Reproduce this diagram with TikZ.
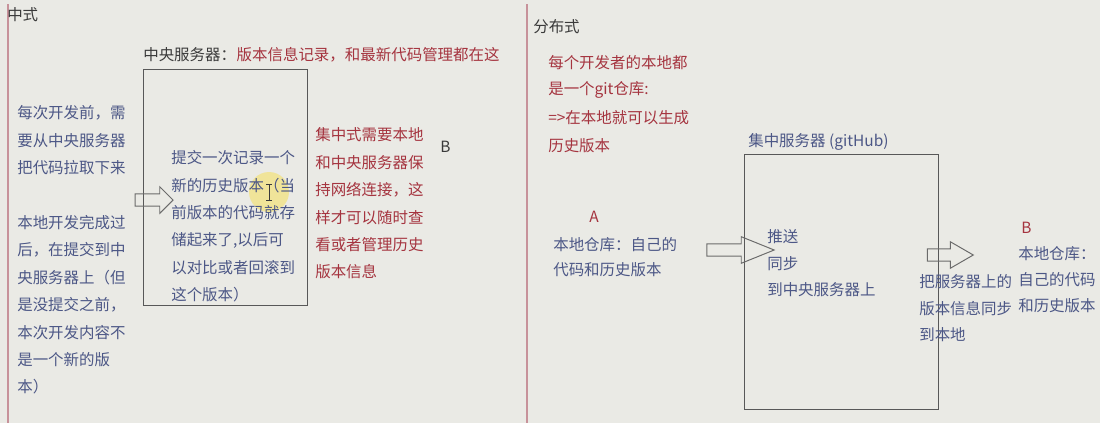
\documentclass[tikz,border=0pt]{standalone}
\usepackage{fontspec}
\setmainfont{Noto Sans CJK SC}
\usetikzlibrary{positioning, shapes.arrows}
\definecolor{cpaper}{HTML}{EAEAE5}
\definecolor{cink}{HTML}{4C5786}
\definecolor{cred}{HTML}{A5343F}
\definecolor{cdark}{HTML}{3A3A3A}
\definecolor{cline}{HTML}{C7929A}
\definecolor{cglow}{HTML}{F3E27A}
\tikzset{
  every picture/.style={font=\fontsize{11}{14}\selectfont},
  txt/.style={anchor=west, inner sep=0pt, text=#1},
  txt/.default=cink,
  frame/.style={draw=cdark!85, line width=0.9pt, anchor=north west, inner sep=0pt},
  hollow/.style={single arrow, draw=cdark!75, line width=0.7pt,
    inner xsep=0pt, inner ysep=0.14cm, single arrow head extend=0.18cm,
    minimum width=0.64cm, minimum height=#1},
  pane/.style={draw=cline, line width=0.8pt},
}
\def\lh{27.4}

\begin{document}
\begin{tikzpicture}[x=0.025cm, y=-0.025cm]
  \useasboundingbox (0,0) rectangle (1100,423);
  \fill[cpaper] (0,0) rectangle (1100,423);
  % pane borders
  \draw[pane] (8,4) -- (8,423);
  \draw[pane] (527,4) -- (527,423);

  % ---- left pane: centralised
  \node[txt=cdark] (cenTitle) at (7,15) {中式};
  \node[txt=cdark] (srvName) at (143,55) {中央服务器：};
  \node[txt=cred, right=0pt of srvName] (srvNote) {版本信息记录，和最新代码管理都在这};
  \node[frame, minimum width=4.1cm, minimum height=5.9cm] (srvBox) at (143,69) {};
  \fill[cglow, opacity=0.7] (269,192) circle (20);
  \draw[cdark, line width=0.5pt] (266,184) -- (272,184) (269,184) -- (269,200) (266,200) -- (272,200);
  % before / after local work
  \foreach \t [count=\i from 0] in {每次开发前，需, 要从中央服务器, 把代码拉取下来}
    \node[txt] (pull\i) at (17,113+\lh*\i) {\t};
  \foreach \t [count=\i from 4] in {本地开发完成过, 后，在提交到中, 央服务器上（但, 是没提交之前，,
      本次开发内容不, 是一个新的版, 本）}
    \node[txt] (push\i) at (17,113+\lh*\i) {\t};
  \node[hollow=0.95cm] (commitArrow) at (151,200) {};
  % inside the server box
  \foreach \t [count=\i from 0] in {提交一次记录一个, 新的历史版本（当, 前版本的代码就存, {储起来了,以后可},
      以对比或者回滚到, 这个版本）}
    \node[txt] (commit\i) at (171,158+\lh*\i) {\t};
  % network note
  \foreach \t [count=\i from 0] in {集中式需要本地, 和中央服务器保, 持网络连接，这, 样才可以随时查,
      看或者管理历史, 版本信息}
    \node[txt=cred] (net\i) at (315,135+\lh*\i) {\t};
  \node[txt=cdark] (cenB) at (440,147) {B};

  % ---- right pane: distributed
  \node[txt=cdark] (disTitle) at (533,27) {分布式};
  \foreach \t [count=\i from 0] in {每个开发者的本地都, 是一个git仓库:, =>在本地就可以生成, 历史版本}
    \node[txt=cred] (repo\i) at (548,63+\lh*\i) {\t};
  \node[txt] (hubName) at (748,142) {集中服务器 (gitHub)};
  \node[frame, minimum width=4.85cm, minimum height=6.375cm] (hubBox) at (744,154) {};
  % developer A
  \node[txt=cred] (devA) at (589,217) {A};
  \node[txt] (localA) at (553,245) {本地仓库：自己的};
  \node[txt, below=0.24cm of localA.south west, anchor=north west] (histA) {代码和历史版本};
  \node[hollow=1.68cm, single arrow tip angle=44] (pushArrow) at (733,250) {};
  \foreach \t [count=\i from 0] in {推送, 同步, 到中央服务器上}
    \node[txt] (sync\i) at (767,237+26.5*\i) {\t};
  % developer B
  \node[hollow=1.15cm, single arrow tip angle=60] (pullArrow) at (945,255) {};
  \foreach \t [count=\i from 0] in {把服务器上的, 版本信息同步, 到本地}
    \node[txt] (fetch\i) at (919,282+26.5*\i) {\t};
  \node[txt=cred] (devB) at (1021,228) {B};
  \foreach \t [count=\i from 0] in {本地仓库：, 自己的代码, 和历史版本}
    \node[txt] (localB\i) at (1018,254+26*\i) {\t};
\end{tikzpicture}
\end{document}
